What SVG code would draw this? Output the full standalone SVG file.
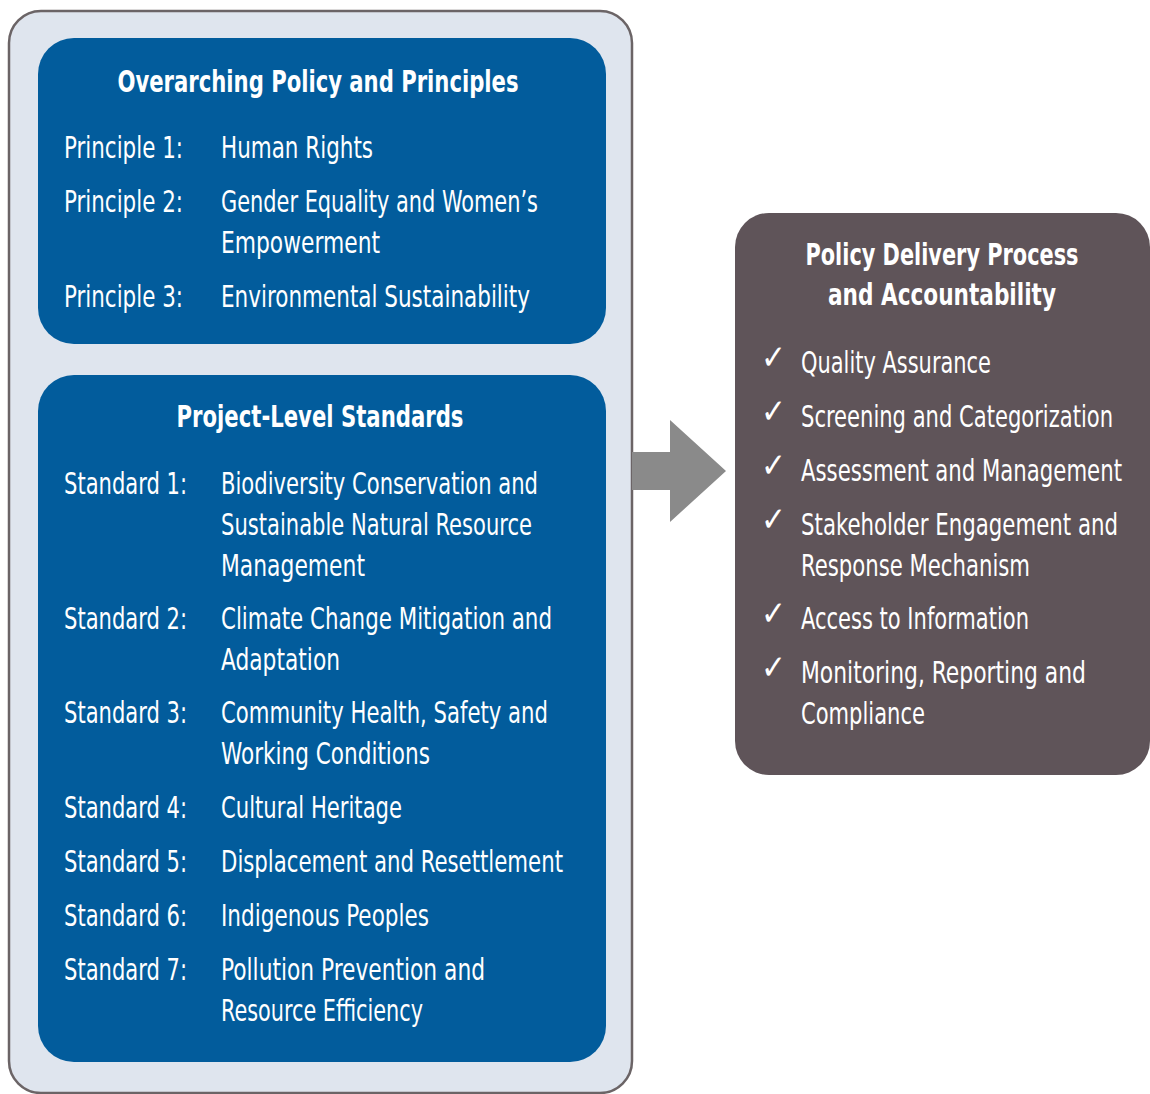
<svg xmlns="http://www.w3.org/2000/svg" width="1150" height="1094" viewBox="0 0 1150 1094">
<style>
text{font-family:"Liberation Sans Narrow","DejaVu Sans Condensed","Liberation Sans",sans-serif;font-stretch:condensed;fill:#ffffff;font-size:31px}
.t{font-weight:bold;text-anchor:middle}
.ck{font-family:"DejaVu Sans",sans-serif;font-size:34px;font-weight:bold;font-stretch:normal}
</style>
<rect width="1150" height="1094" fill="#ffffff"/>
<g id="outer">
<rect x="9" y="11" width="623" height="1082" rx="32" fill="#dfe5ee" stroke="#6b6466" stroke-width="2.5"/>
</g>
<g id="principles">
<rect x="38" y="38" width="568" height="306" rx="36" fill="#025c9c"/>
<text class="t" x="318" y="92" textLength="401" lengthAdjust="spacingAndGlyphs">Overarching Policy and Principles</text>
<text x="64" y="158" textLength="119" lengthAdjust="spacingAndGlyphs">Principle 1:</text>
<text x="221" y="158" textLength="152" lengthAdjust="spacingAndGlyphs">Human Rights</text>
<text x="64" y="212" textLength="119" lengthAdjust="spacingAndGlyphs">Principle 2:</text>
<text x="221" y="212" textLength="317" lengthAdjust="spacingAndGlyphs">Gender Equality and Women’s</text>
<text x="221" y="253" textLength="159" lengthAdjust="spacingAndGlyphs">Empowerment</text>
<text x="64" y="307" textLength="119" lengthAdjust="spacingAndGlyphs">Principle 3:</text>
<text x="221" y="307" textLength="309" lengthAdjust="spacingAndGlyphs">Environmental Sustainability</text>
</g>
<g id="standards">
<rect x="38" y="375" width="568" height="687" rx="36" fill="#025c9c"/>
<text class="t" x="320" y="427" textLength="287" lengthAdjust="spacingAndGlyphs">Project-Level Standards</text>
<text x="64" y="494" textLength="123" lengthAdjust="spacingAndGlyphs">Standard 1:</text>
<text x="221" y="494" textLength="317" lengthAdjust="spacingAndGlyphs">Biodiversity Conservation and</text>
<text x="221" y="535" textLength="311" lengthAdjust="spacingAndGlyphs">Sustainable Natural Resource</text>
<text x="221" y="576" textLength="144" lengthAdjust="spacingAndGlyphs">Management</text>
<text x="64" y="629" textLength="123" lengthAdjust="spacingAndGlyphs">Standard 2:</text>
<text x="221" y="629" textLength="331" lengthAdjust="spacingAndGlyphs">Climate Change Mitigation and</text>
<text x="221" y="670" textLength="119" lengthAdjust="spacingAndGlyphs">Adaptation</text>
<text x="64" y="723" textLength="123" lengthAdjust="spacingAndGlyphs">Standard 3:</text>
<text x="221" y="723" textLength="327" lengthAdjust="spacingAndGlyphs">Community Health, Safety and</text>
<text x="221" y="764" textLength="209" lengthAdjust="spacingAndGlyphs">Working Conditions</text>
<text x="64" y="818" textLength="123" lengthAdjust="spacingAndGlyphs">Standard 4:</text>
<text x="221" y="818" textLength="181" lengthAdjust="spacingAndGlyphs">Cultural Heritage</text>
<text x="64" y="872" textLength="123" lengthAdjust="spacingAndGlyphs">Standard 5:</text>
<text x="221" y="872" textLength="342" lengthAdjust="spacingAndGlyphs">Displacement and Resettlement</text>
<text x="64" y="926" textLength="123" lengthAdjust="spacingAndGlyphs">Standard 6:</text>
<text x="221" y="926" textLength="208" lengthAdjust="spacingAndGlyphs">Indigenous Peoples</text>
<text x="64" y="980" textLength="123" lengthAdjust="spacingAndGlyphs">Standard 7:</text>
<text x="221" y="980" textLength="264" lengthAdjust="spacingAndGlyphs">Pollution Prevention and</text>
<text x="221" y="1021" textLength="202" lengthAdjust="spacingAndGlyphs">Resource Efficiency</text>
</g>
<g id="connectors">
<path d="M632,452 H670 V420 L726,471 L670,522 V490 H632 Z" fill="#8a8a8a"/>
</g>
<g id="delivery">
<rect x="735" y="213" width="415" height="562" rx="34" fill="#5f5459"/>
<text class="t" x="942" y="265" textLength="273" lengthAdjust="spacingAndGlyphs">Policy Delivery Process</text>
<text class="t" x="942" y="305" textLength="228" lengthAdjust="spacingAndGlyphs">and Accountability</text>
<text class="ck" x="761" y="369" textLength="25" lengthAdjust="spacingAndGlyphs">✓</text>
<text x="801" y="373" textLength="190" lengthAdjust="spacingAndGlyphs">Quality Assurance</text>
<text class="ck" x="761" y="423" textLength="25" lengthAdjust="spacingAndGlyphs">✓</text>
<text x="801" y="427" textLength="312" lengthAdjust="spacingAndGlyphs">Screening and Categorization</text>
<text class="ck" x="761" y="477" textLength="25" lengthAdjust="spacingAndGlyphs">✓</text>
<text x="801" y="481" textLength="321" lengthAdjust="spacingAndGlyphs">Assessment and Management</text>
<text class="ck" x="761" y="531" textLength="25" lengthAdjust="spacingAndGlyphs">✓</text>
<text x="801" y="535" textLength="317" lengthAdjust="spacingAndGlyphs">Stakeholder Engagement and</text>
<text x="801" y="576" textLength="229" lengthAdjust="spacingAndGlyphs">Response Mechanism</text>
<text class="ck" x="761" y="625" textLength="25" lengthAdjust="spacingAndGlyphs">✓</text>
<text x="801" y="629" textLength="228" lengthAdjust="spacingAndGlyphs">Access to Information</text>
<text class="ck" x="761" y="679" textLength="25" lengthAdjust="spacingAndGlyphs">✓</text>
<text x="801" y="683" textLength="285" lengthAdjust="spacingAndGlyphs">Monitoring, Reporting and</text>
<text x="801" y="724" textLength="124" lengthAdjust="spacingAndGlyphs">Compliance</text>
</g>
</svg>
